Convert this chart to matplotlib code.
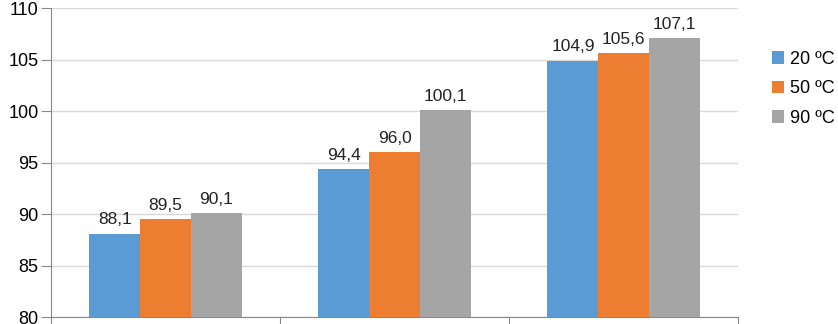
import numpy as np
import matplotlib.pyplot as plt

# values per group and temperature
groups = ["A", "B", "C"]
series = ["20 ºC", "50 ºC", "90 ºC"]
t20 = [88.1, 94.4, 104.9]
t50 = [89.5, 96.0, 105.6]
t90 = [90.1, 100.1, 107.1]
colors = ["#5B9BD5", "#ED7D31", "#A5A5A5"]

plt.rcParams['font.family'] = ['Liberation Sans', 'DejaVu Sans']

fig = plt.figure(figsize=(8.38, 3.24), dpi=100)
ax = fig.add_axes([0.061, 0.0216, 0.82, 0.9535])

x = np.arange(len(groups))
w = 0.222
for i, (vals, name, c) in enumerate(zip([t20, t50, t90], series, colors)):
    pos = x + (i - 1) * w
    bars = ax.bar(pos, vals, width=w, color=c, label=name, zorder=3)
    for b, v in zip(bars, vals):
        ax.text(b.get_x() + b.get_width() / 2, v + 0.6, f"{v:.1f}".replace(".", ","),
                ha="center", va="bottom", fontsize=12.5, color="#222222")

ax.set_ylim(80, 110)
ax.set_yticks(range(80, 111, 5))
ax.set_xlim(-0.5, 2.5)
ax.set_xticks([-0.5, 0.5, 1.5, 2.5])
ax.set_xticklabels([])
ax.tick_params(axis="x", length=7, color="#888888", direction="out")
ax.tick_params(axis="y", length=7, color="#888888", labelsize=13, pad=2)
ax.yaxis.grid(True, color="#D9D9D9", linewidth=1, zorder=0)
for s in ["top", "right"]:
    ax.spines[s].set_visible(False)
for s in ["left", "bottom"]:
    ax.spines[s].set_color("#888888")

ax.legend(loc="upper left", bbox_to_anchor=(1.025, 0.915), frameon=False,
          fontsize=13, handlelength=0.7, handleheight=0.7, handletextpad=0.3,
          labelspacing=0.7)

fig.savefig("out.png", dpi=100)
